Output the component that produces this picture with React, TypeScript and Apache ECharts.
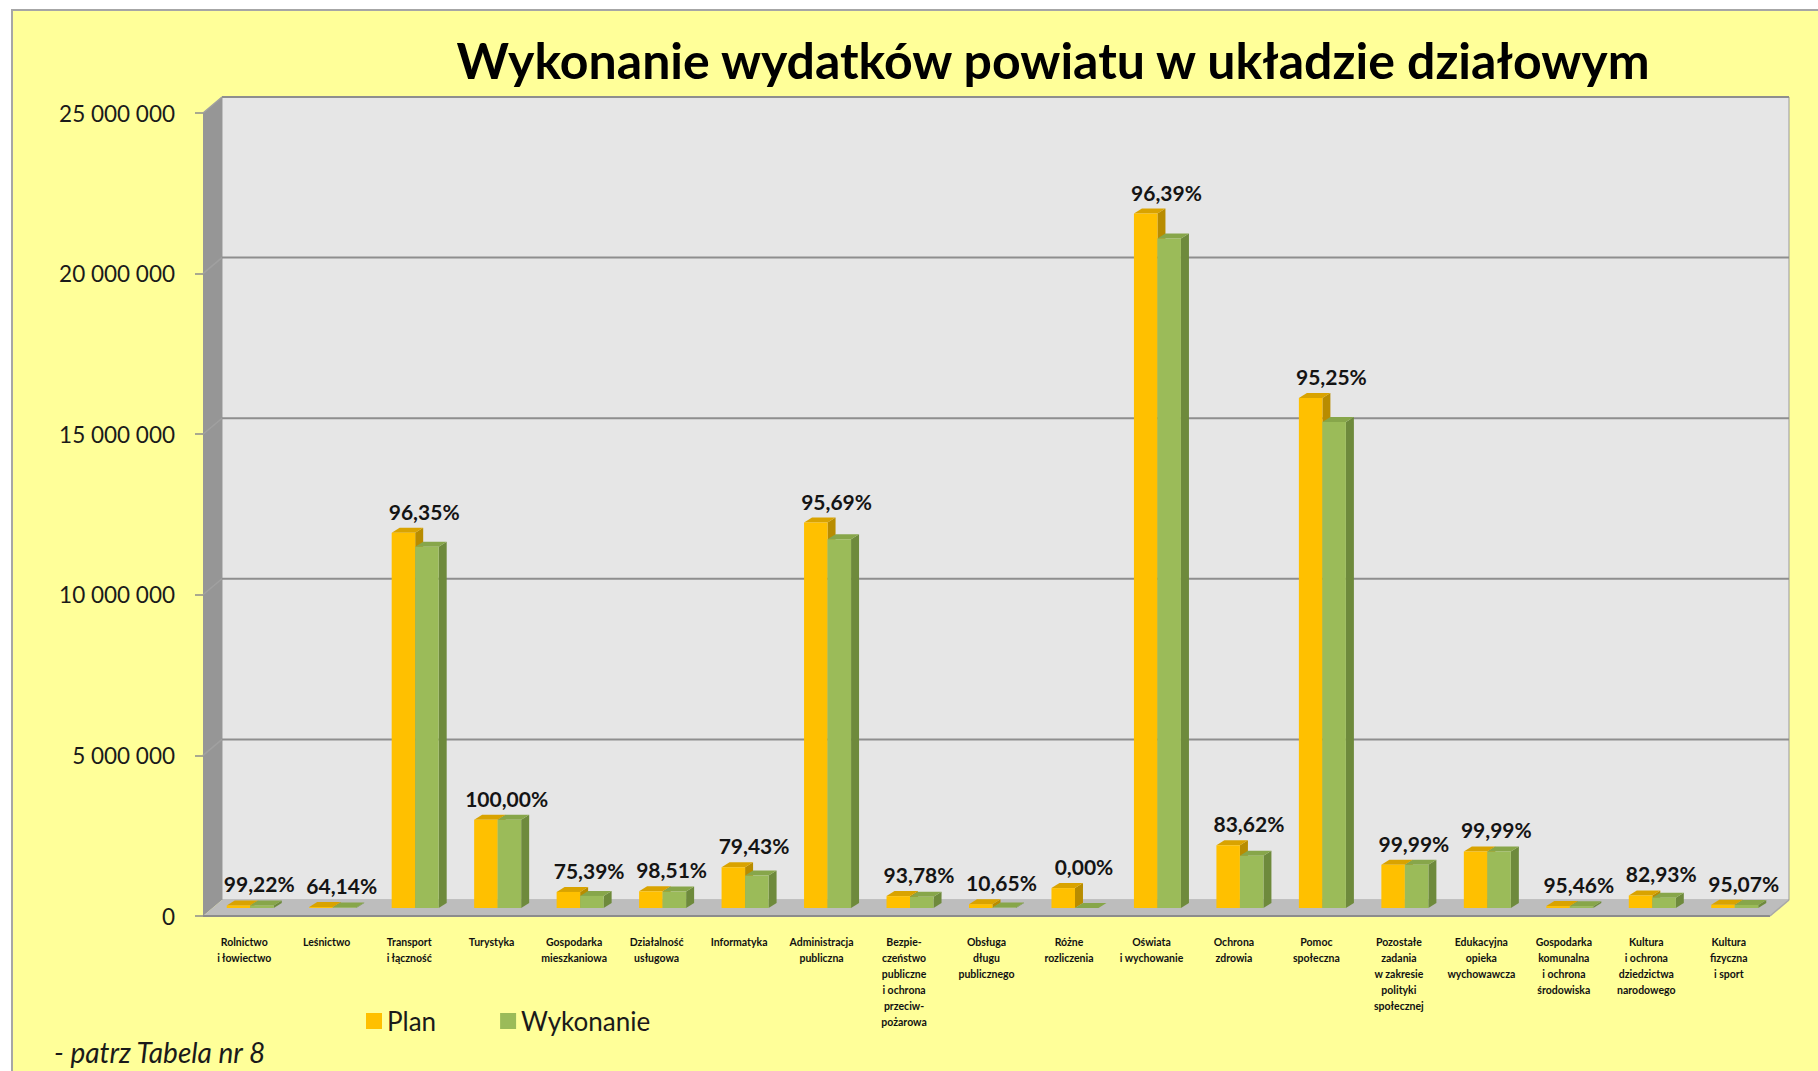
import React, { useEffect, useRef } from "react";
import * as echarts from "echarts";

const CATEGORIES = [
  "Rolnictwo\ni łowiectwo",
  "Leśnictwo",
  "Transport\ni łączność",
  "Turystyka",
  "Gospodarka\nmieszkaniowa",
  "Działalność\nusługowa",
  "Informatyka",
  "Administracja\npubliczna",
  "Bezpie-\nczeństwo\npubliczne\ni ochrona\nprzeciw-\npożarowa",
  "Obsługa\ndługu\npublicznego",
  "Różne\nrozliczenia",
  "Oświata\ni wychowanie",
  "Ochrona\nzdrowia",
  "Pomoc\nspołeczna",
  "Pozostałe\nzadania\nw zakresie\npolityki\nspołecznej",
  "Edukacyjna\nopieka\nwychowawcza",
  "Gospodarka\nkomunalna\ni ochrona\nśrodowiska",
  "Kultura\ni ochrona\ndziedzictwa\nnarodowego",
  "Kultura\nfizyczna\ni sport",
];

const PLAN = [
  80000, 30000, 11680000, 2750000, 500000, 520000, 1270000, 12000000, 370000,
  120000, 620000, 21620000, 1950000, 15880000, 1350000, 1760000, 60000, 390000,
  100000,
];

const WYKONANIE = [
  79000, 19000, 11250000, 2750000, 377000, 512000, 1010000, 11480000, 347000,
  13000, 0, 20840000, 1630000, 15130000, 1350000, 1760000, 57000, 323000,
  95000,
];

const PERCENT_LABELS = [
  "99,22%", "64,14%", "96,35%", "100,00%", "75,39%", "98,51%", "79,43%",
  "95,69%", "93,78%", "10,65%", "0,00%", "96,39%", "83,62%", "95,25%",
  "99,99%", "99,99%", "95,46%", "82,93%", "95,07%",
];

const Y_MIN = 0;
const Y_MAX = 25000000;
const Y_STEP = 5000000;

const TITLE = "Wykonanie wydatków powiatu w układzie działowym";
const FOOTNOTE = "- patrz Tabela nr 8";

const WALL_DX = 19;
const WALL_DY = -16;
const MID_DX = 6;
const MID_DY = -8;
const BAR_DX = 8;
const BAR_DY = -5;

function fmt(v: number): string {
  return String(v).replace(/\B(?=(\d{3})+(?!\d))/g, " ");
}

function makeBarRender(front: string, side: string, top: string, isPlan: boolean) {
  return (params: any, api: any) => {
    const idx = api.value(0);
    const val = api.value(1);
    const [cx, by0] = api.coord([idx, 0]);
    const [, ty0] = api.coord([idx, val]);
    const band = api.size([1, 0])[0];
    const w = band * 0.285;
    const pcx = cx + MID_DX;
    const by = by0 + MID_DY;
    const ty = ty0 + MID_DY;
    const left = isPlan ? pcx - w : pcx;
    const right = left + w;
    return {
      type: "group",
      children: [
        {
          type: "polygon",
          shape: {
            points: [
              [right, ty],
              [right + BAR_DX, ty + BAR_DY],
              [right + BAR_DX, by + BAR_DY],
              [right, by],
            ],
          },
          style: { fill: side },
        },
        {
          type: "polygon",
          shape: {
            points: [
              [left, ty],
              [left + BAR_DX, ty + BAR_DY],
              [right + BAR_DX, ty + BAR_DY],
              [right, ty],
            ],
          },
          style: { fill: top },
        },
        {
          type: "rect",
          shape: { x: left, y: ty, width: w, height: Math.max(0, by - ty) },
          style: { fill: front },
        },
      ],
    };
  };
}

export default function App() {
  const ref = useRef<HTMLDivElement>(null);

  useEffect(() => {
    if (!ref.current) return;
    const chart = echarts.init(ref.current, undefined, { renderer: "svg" });

    const gridVals: number[] = [];
    for (let v = Y_MIN; v <= Y_MAX; v += Y_STEP) gridVals.push(v);

    const wallsRender = (params: any, api: any) => {
      const cs = params.coordSys;
      const L = cs.x;
      const R = cs.x + cs.width;
      const T = cs.y;
      const B = cs.y + cs.height;
      const children: any[] = [];
      children.push({
        type: "rect",
        shape: { x: L + WALL_DX, y: T + WALL_DY, width: R - L, height: B - T },
        style: { fill: "#E6E6E6", stroke: "#9A9A9A", lineWidth: 1 },
      });
      children.push({
        type: "polygon",
        shape: {
          points: [
            [L, T],
            [L + WALL_DX, T + WALL_DY],
            [L + WALL_DX, B + WALL_DY],
            [L, B],
          ],
        },
        style: { fill: "#969696" },
      });
      children.push({
        type: "polygon",
        shape: {
          points: [
            [L, B],
            [L + WALL_DX, B + WALL_DY],
            [R + WALL_DX, B + WALL_DY],
            [R, B],
          ],
        },
        style: { fill: "#BDBDBD" },
      });
      children.push({
        type: "line",
        shape: { x1: L, y1: B, x2: R, y2: B },
        style: { stroke: "#8C8C8C", lineWidth: 2 },
      });
      children.push({
        type: "line",
        shape: { x1: R, y1: B, x2: R + WALL_DX, y2: B + WALL_DY },
        style: { stroke: "#A8A8A8", lineWidth: 1.5 },
      });
      gridVals.forEach((v) => {
        if (v === Y_MIN) return;
        const y = api.coord([0, v])[1];
        children.push({
          type: "line",
          shape: { x1: L + WALL_DX, y1: y + WALL_DY, x2: R + WALL_DX, y2: y + WALL_DY },
          style: { stroke: "#8E8E8E", lineWidth: 2 },
        });
        children.push({
          type: "line",
          shape: { x1: L, y1: y, x2: L + WALL_DX, y2: y + WALL_DY },
          style: { stroke: "#A0A0A0", lineWidth: 1.5 },
        });
      });
      return { type: "group", children };
    };

    const labelsRender = (params: any, api: any) => {
      const idx = api.value(0);
      const top = Math.max(api.value(1), api.value(2));
      const [cx] = api.coord([idx, 0]);
      const [, ty] = api.coord([idx, top]);
      return {
        type: "text",
        x: cx + 15,
        y: ty + MID_DY - 11,
        style: {
          text: PERCENT_LABELS[idx],
          fill: "#141414",
          fontSize: 21,
          fontWeight: "bold",
          fontFamily: "Lato",
          align: "center",
          verticalAlign: "bottom",
          textAlign: "center",
          textVerticalAlign: "bottom",
        },
      };
    };

    chart.setOption({
      animation: false,
      backgroundColor: "#FFFFFF",
      graphic: [
        {
          type: "rect",
          z: -10,
          shape: { x: 12, y: 10, width: 1820, height: 1080 },
          style: { fill: "#FFFF99", stroke: "#A6A6A6", lineWidth: 2 },
        },
        {
          type: "text",
          x: 1053,
          y: 60,
          style: {
            text: TITLE,
            fill: "#000000",
            font: "bold 50px Lato",
            textAlign: "center",
            textVerticalAlign: "middle",
          },
        },
        {
          type: "text",
          x: 54,
          y: 1052,
          style: {
            text: FOOTNOTE,
            fill: "#1a1a1a",
            font: "italic 28px Lato",
            textAlign: "left",
            textVerticalAlign: "middle",
          },
        },
      ],
      legend: {
        data: ["Plan", "Wykonanie"],
        left: 361,
        top: 1003,
        icon: "rect",
        itemWidth: 16,
        itemHeight: 16,
        itemGap: 64,
        textStyle: { fontSize: 26, fontFamily: "Lato", color: "#1a1a1a" },
      },
      grid: { left: 203, right: 48, top: 113, bottom: 155, containLabel: false },
      xAxis: {
        type: "category",
        data: CATEGORIES,
        axisLine: { show: false },
        axisTick: { show: false },
        axisLabel: {
          interval: 0,
          margin: 18,
          fontSize: 10.5,
          lineHeight: 16,
          fontWeight: "bold",
          fontFamily: "Lato",
          color: "#111",
          align: "center",
          verticalAlign: "top",
        },
      },
      yAxis: {
        type: "value",
        min: Y_MIN,
        max: Y_MAX,
        interval: Y_STEP,
        axisLine: { show: false },
        axisTick: { show: true, length: 8, lineStyle: { color: "#8C8C8C", width: 1.5 } },
        splitLine: { show: false },
        axisLabel: {
          margin: 28,
          fontSize: 22.5,
          fontFamily: "Lato",
          color: "#1a1a1a",
          formatter: (v: number) => fmt(v),
        },
      },
      series: [
        {
          type: "custom",
          name: "walls",
          z: 1,
          silent: true,
          clip: false,
          data: [[0, 0]],
          encode: { x: 0, y: 1 },
          renderItem: wallsRender,
        },
        {
          type: "custom",
          name: "Plan",
          z: 2,
          clip: false,
          itemStyle: { color: "#FFC000" },
          data: PLAN.map((v, i) => [i, v]),
          encode: { x: 0, y: 1 },
          renderItem: makeBarRender("#FFC000", "#B88C00", "#D9A300", true),
        },
        {
          type: "custom",
          name: "Wykonanie",
          z: 3,
          clip: false,
          itemStyle: { color: "#9BBB59" },
          data: WYKONANIE.map((v, i) => [i, v]),
          encode: { x: 0, y: 1 },
          renderItem: makeBarRender("#9BBB59", "#6E8A3C", "#87A64A", false),
        },
        {
          type: "custom",
          name: "labels",
          z: 5,
          clip: false,
          silent: true,
          data: PLAN.map((v, i) => [i, v, WYKONANIE[i]]),
          encode: { x: 0, y: 1 },
          renderItem: labelsRender,
        },
      ],
    });

    return () => chart.dispose();
  }, []);

  return (
    <div
      ref={ref}
      style={{ position: "absolute", left: 0, top: 0, width: 1818, height: 1071 }}
    />
  );
}
